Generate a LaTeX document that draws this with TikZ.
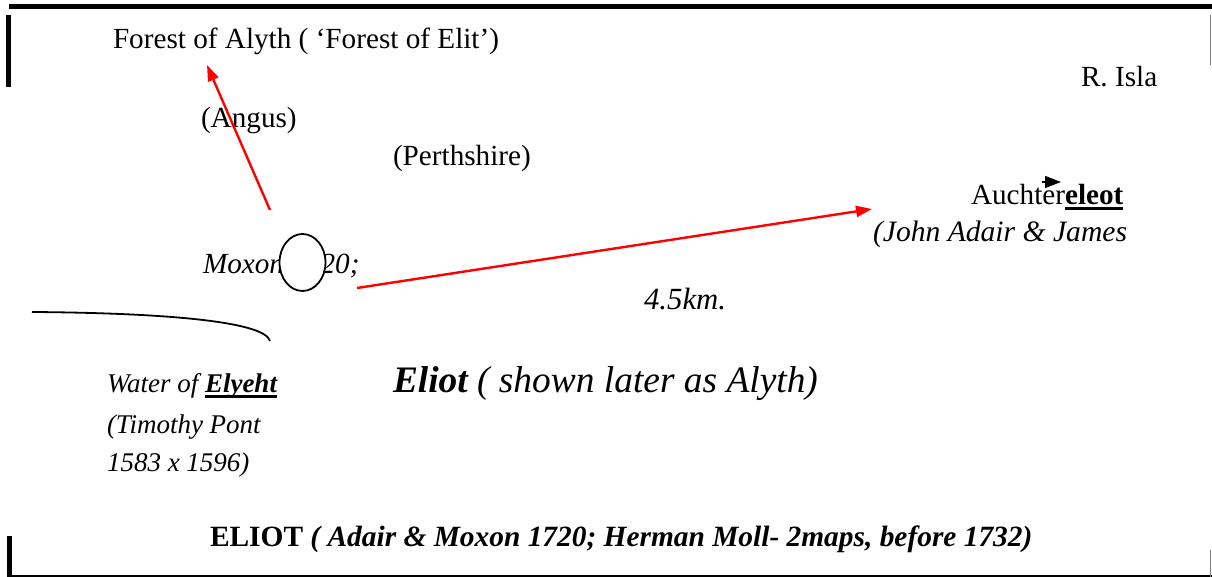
\documentclass[tikz,border=0pt]{standalone}
\usepackage{fontspec}
\setmainfont{Liberation Serif}
\usepackage{xcolor}
\usetikzlibrary{arrows.meta,positioning,shapes.geometric}
\definecolor{Route}{HTML}{FF0000}
\definecolor{Edge}{HTML}{7F7F7F}
\newcommand{\thickul}[1]{\setbox0\hbox{#1}\rlap{\rule[-2.4pt]{\wd0}{1.4pt}}\box0}

\begin{document}
\begin{tikzpicture}[x=0.5pt,y=-0.5pt,font=\fontsize{14.6}{16}\selectfont,>=Latex,
  every node/.style={inner sep=0pt,outer sep=0pt,anchor=base west},
  side/.style={font=\fontsize{13.5}{15}\selectfont\itshape},
  route/.style={draw=Route,line width=1.2pt,-{Triangle[length=8pt,width=5.5pt]}}]
  \useasboundingbox (0,0) rectangle (1212,577);
  % frame pieces
  \draw[line width=2.6pt] (9,6.5) -- (1212,6.5);
  \draw[line width=2.6pt] (8.5,15) -- (8.5,87);
  \draw[Edge,line width=0.6pt] (1210.5,15) -- (1210.5,65);
  \draw[line width=2.6pt] (9.5,536) -- (9.5,577);
  \draw[line width=1.2pt] (8,575.8) -- (1212,575.8);
  \draw[Edge,line width=0.6pt] (1210.5,550) -- (1210.5,577);
  % labels
  \node (forest) at (113,49) {Forest of Alyth ( `Forest of Elit')};
  \node (isla) at (1081,87) {R. Isla};
  \node (angus) at (201,128) {(Angus)};
  \node (perth) at (393,166) {(Perthshire)};
  \node (auchter) at (971,205) {Auchter\thickul{\textbf{eleot}}};
  \node (adair) at (873,242) {\fontsize{14.8}{17}\selectfont\itshape (John Adair \& James};
  \node (moxon) at (203,274) {\itshape Moxon 1720;};
  \node (dist) at (644,310) {\fontsize{15.4}{17}\selectfont\itshape 4.5km.};
  \node[side] (water) at (107,393) {Water of \thickul{\textbf{Elyeht}}};
  \node[side] (pont) at (107,434) {(Timothy Pont};
  \node[side] (years) at (107,472) {1583 x 1596)};
  \node (eliot) at (393,393) {\fontsize{18.7}{20}\selectfont\itshape\textbf{Eliot} ( shown later as Alyth)};
  \node (title) at (210,546) {\fontsize{14.7}{17}\selectfont\textbf{ELIOT \itshape ( Adair \& Moxon 1720; Herman Moll- 2maps, before 1732)}};
  % circle over the date
  \node[draw,fill=white,ellipse,line width=0.9pt,minimum width=23pt,minimum height=28.5pt,anchor=center] (ring) at (302.5,262.5) {};
  % river
  \draw[line width=0.9pt] (32,312) .. controls (170,313) and (265,322) .. (270,341);
  % routes
  \coordinate (r1s) at (270,210);
  \coordinate (r1e) at (207,65);
  \coordinate (r2s) at (357,288);
  \coordinate (r2e) at (872,209);
  \draw[route] (r1s) -- (r1e);
  \draw[route] (r2s) -- (r2e);
  \coordinate (m1) at (1042,182);
  \coordinate (m2) at (1061,182);
  \draw[line width=0.8pt,-{Triangle[length=8pt,width=6pt]}] (m1) -- (m2);
\end{tikzpicture}
\end{document}
